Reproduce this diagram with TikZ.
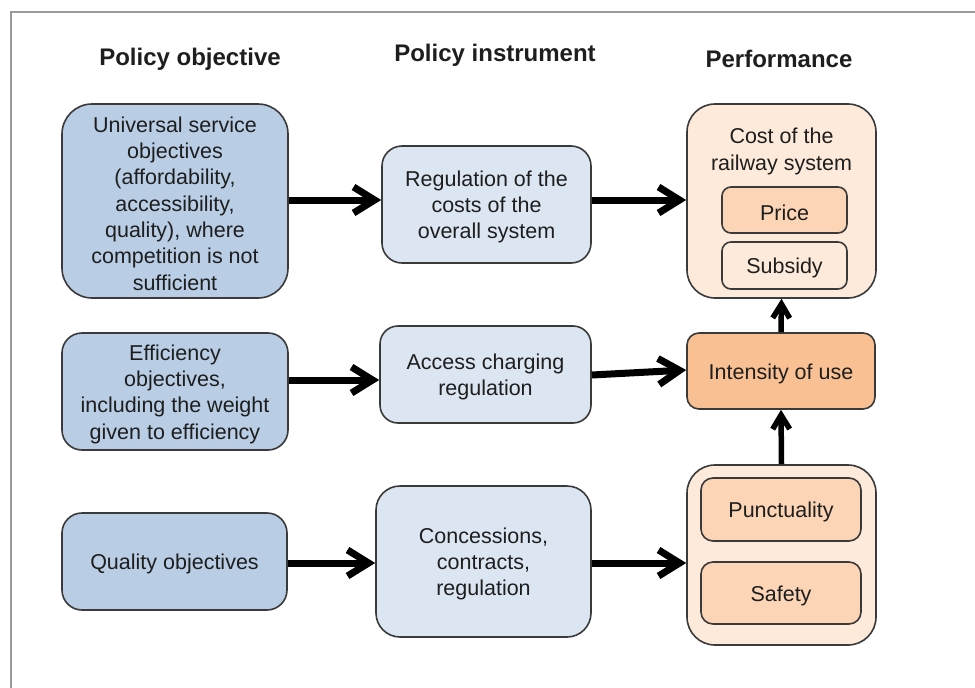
\documentclass[tikz,border=0pt]{standalone}
\usepackage{fontspec}
\setmainfont{Liberation Sans}
\usetikzlibrary{arrows.meta}
\definecolor{objfill}{HTML}{B9CDE5}
\definecolor{insfill}{HTML}{DCE6F2}
\definecolor{perfout}{HTML}{FDEADA}
\definecolor{perfin}{HTML}{FBD5B5}
\definecolor{intens}{HTML}{F9C193}
\definecolor{edge}{HTML}{3A3A3A}
\definecolor{txt}{HTML}{1E1E1E}
\definecolor{framec}{HTML}{9A9A9A}
\begin{document}
\begin{tikzpicture}[x=1pt,y=-1pt,
  box/.style={draw=edge, line width=1.6pt, inner sep=0pt},
  plain/.style={text=txt, align=center, inner sep=0pt, yshift=-2.5pt,
    font=\fontsize{21.5}{26.3}\selectfont},
  head/.style={text=txt, font=\fontsize{24}{28}\selectfont\bfseries, inner sep=0pt},
  harr/.style={line width=7pt, draw=black, -{Straight Barb[length=21pt,width=26pt]}},
  varr/.style={line width=5.5pt, draw=black, -{Straight Barb[length=14pt,width=17pt]}}]
\useasboundingbox (0,0) rectangle (975,688);
\fill[white] (0,0) rectangle (975,688);
\draw[framec, line width=1.8pt] (11,688) -- (11,12) -- (975,12);
% headers
\node[head] (h1) at (190,59) {Policy objective};
\node[head] (h2) at (495,55) {Policy instrument};
\node[head] (h3) at (779,58.5) {Performance};
% policy objectives
\node[box, fill=objfill, rounded corners=30pt, minimum width=226pt, minimum height=194pt,
  label={[plain]center:{Universal service\\objectives\\(affordability,\\accessibility,\\quality), where\\competition is not\\sufficient}}] (A1) at (175,201) {};
\node[box, fill=objfill, rounded corners=20pt, minimum width=226pt, minimum height=117pt,
  label={[plain]center:{Efficiency\\objectives,\\including the weight\\given to efficiency}}] (A2) at (175,391.5) {};
\node[box, fill=objfill, rounded corners=20pt, minimum width=225pt, minimum height=97pt,
  label={[plain]center:{Quality objectives}}] (A3) at (174.5,561.5) {};
% instruments
\node[box, fill=insfill, rounded corners=20pt, minimum width=209pt, minimum height=117pt,
  label={[plain]center:{Regulation of the\\costs of the\\overall system}}] (B1) at (486.5,204.5) {};
\node[box, fill=insfill, rounded corners=18pt, minimum width=211pt, minimum height=97pt,
  label={[plain]center:{Access charging\\regulation}}] (B2) at (485.5,374.5) {};
\node[box, fill=insfill, rounded corners=24pt, minimum width=215pt, minimum height=151pt,
  label={[plain]center:{Concessions,\\contracts,\\regulation}}] (B3) at (483.5,561.5) {};
% performance
\node[box, fill=perfout, rounded corners=28pt, minimum width=189pt, minimum height=194pt] (C1) at (781.5,201) {};
\node[plain] (C1t) at (781.5,149) {Cost of the\\railway system};
\node[box, fill=perfin, rounded corners=9pt, minimum width=125pt, minimum height=46pt,
  label={[plain]center:{Price}}] (P1) at (784.5,210) {};
\node[box, fill=perfout, rounded corners=9pt, minimum width=125pt, minimum height=47pt,
  label={[plain]center:{Subsidy}}] (P2) at (784.5,265.5) {};
\node[box, fill=intens, rounded corners=12pt, minimum width=188pt, minimum height=76pt,
  label={[plain]center:{Intensity of use}}] (C2) at (781,371) {};
\node[box, fill=perfout, rounded corners=28pt, minimum width=189pt, minimum height=180pt] (C3) at (781.5,555) {};
\node[box, fill=perfin, rounded corners=12pt, minimum width=160pt, minimum height=63pt,
  label={[plain]center:{Punctuality}}] (Q1) at (781,509.5) {};
\node[box, fill=perfin, rounded corners=12pt, minimum width=160pt, minimum height=62pt,
  label={[plain]center:{Safety}}] (Q2) at (781,593) {};
% connectors
\draw[harr] (A1.east |- 0,200) -- (B1.west |- 0,200);
\draw[harr] (B1.east |- 0,200) -- (C1.west |- 0,200);
\draw[harr] (A2.east |- 0,380) -- (B2.west |- 0,380);
\draw[harr] (B2.east |- 0,375) -- (C2.west |- 0,370);
\draw[harr] (A3.east |- 0,563) -- (B3.west |- 0,563);
\draw[harr] (B3.east |- 0,563) -- (C3.west |- 0,563);
\draw[varr] (C2.north) -- (C1.south);
\draw[varr] (C3.north) -- (C2.south);
\end{tikzpicture}
\end{document}
